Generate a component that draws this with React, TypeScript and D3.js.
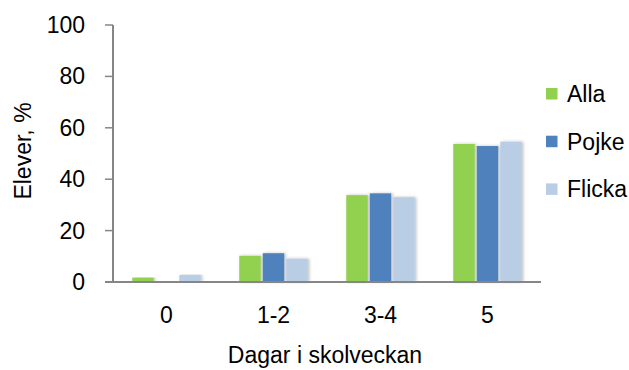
import React from "react";
import * as d3 from "d3";

const categories = ["0", "1-2", "3-4", "5"];
const seriesNames = ["Alla", "Pojke", "Flicka"];
const alla = [1.7, 10.2, 33.8, 53.7];
const pojke = [0.3, 11.2, 34.5, 52.9];
const flicka = [2.7, 9.1, 33.0, 54.6];
const yTicks = [0, 20, 40, 60, 80, 100];
const colors = ["#92D050", "#4F81BD", "#B9CDE5"];

export default function App() {
  const W = 629, H = 370;
  const left = 113, right = 541, top = 25, bottom = 282;
  const series = [alla, pojke, flicka];
  const x = d3.scaleBand().domain(categories).range([left, right]).paddingInner(0).paddingOuter(0);
  const y = d3.scaleLinear().domain([0, 100]).range([bottom, top]);
  const barW = 21.5, gap = 2;
  const groupW = barW * 3 + gap * 2;
  const font = "'Liberation Sans', Arial, sans-serif";
  const fs = 23;
  return (
    <svg width={W} height={H} style={{ position: "absolute", left: 0, top: 0 }}>
      <defs>
        <filter id="sh" x="-30%" y="-10%" width="160%" height="120%">
          <feDropShadow dx="1.5" dy="0" stdDeviation="1.5" floodColor="#000" floodOpacity="0.25" />
        </filter>
      </defs>
      <rect width={W} height={H} fill="#fff" />
      {categories.map((c, i) => {
        const cx = (x(c) as number) + x.bandwidth() / 2;
        return series.map((s, j) => (
          <rect
            key={c + j}
            x={cx - groupW / 2 + j * (barW + gap)}
            y={y(s[i])}
            width={barW}
            height={bottom - y(s[i])}
            fill={colors[j]}
            filter="url(#sh)"
          />
        ));
      })}
      <line x1={left} x2={left} y1={top} y2={bottom} stroke="#868686" strokeWidth={2} />
      <line x1={left - 8} x2={right} y1={bottom} y2={bottom} stroke="#868686" strokeWidth={2} />
      {yTicks.map((t) => (
        <g key={t}>
          <line x1={left - 8} x2={left} y1={y(t)} y2={y(t)} stroke="#868686" strokeWidth={1.5} />
          <text x={left - 28} y={y(t)} dy="0.35em" textAnchor="end" fontFamily={font} fontSize={fs} fill="#000">
            {t}
          </text>
        </g>
      ))}
      {categories.map((c) => (
        <text key={c} x={(x(c) as number) + x.bandwidth() / 2} y={323} textAnchor="middle" fontFamily={font} fontSize={fs} fill="#000">
          {c}
        </text>
      ))}
      <text x={325} y={363} textAnchor="middle" fontFamily={font} fontSize={fs} fill="#000">
        Dagar i skolveckan
      </text>
      <text transform="translate(31,151) rotate(-90)" textAnchor="middle" fontFamily={font} fontSize={fs} fill="#000">
        Elever, %
      </text>
      {seriesNames.map((n, j) => (
        <g key={n} transform={`translate(546, ${94 + j * 47.7})`}>
          <rect x={0} y={-6} width={11.5} height={11.5} fill={colors[j]} />
          <text x={21} y={0} dy="0.35em" fontFamily={font} fontSize={fs} fill="#000">
            {n}
          </text>
        </g>
      ))}
    </svg>
  );
}
